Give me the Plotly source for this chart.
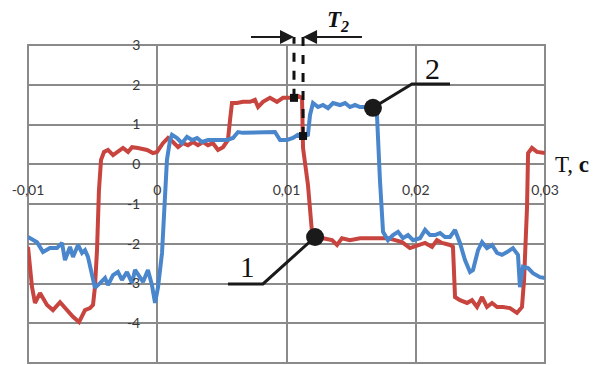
import plotly.graph_objects as go

# ---------------- data ----------------
red_x = [-0.0100, -0.00969, -0.00946, -0.00907, -0.00853, -0.00807, -0.00752, -0.00698,
         -0.00652, -0.00605, -0.00559, -0.00520, -0.00497, -0.00482, -0.00466, -0.00451,
         -0.00435, -0.00412, -0.00381, -0.00342, -0.00304, -0.00265, -0.00226, -0.00195,
         -0.00149, -0.00079, -0.00033, -0.00002, 0.00044, 0.00083, 0.00122, 0.00161,
         0.00199, 0.00238, 0.00277, 0.00315, 0.00354, 0.00393, 0.00431, 0.00470,
         0.00509, 0.00547, 0.00563, 0.00578, 0.00617, 0.00663, 0.00718, 0.00756,
         0.00780, 0.00818, 0.00872, 0.00926, 0.00973, 0.01012, 0.01050, 0.01089,
         0.01120, 0.01128, 0.01166, 0.01197, 0.01221, 0.01282, 0.01352, 0.01391,
         0.01429, 0.01491, 0.01569, 0.01646, 0.01723, 0.01785, 0.01840, 0.01894,
         0.01955, 0.02017, 0.02072, 0.02126, 0.02164, 0.02203, 0.02265, 0.02288,
         0.02304, 0.02342, 0.02397, 0.02435, 0.02474, 0.02513, 0.02551, 0.02590,
         0.02629, 0.02675, 0.02729, 0.02783, 0.02822, 0.02838, 0.02861, 0.02869,
         0.02899, 0.02938, 0.02985, 0.03000]
red_y = [-2.08, -3.09, -3.49, -3.24, -3.54, -3.67, -3.47, -3.67,
         -3.84, -3.97, -3.67, -3.62, -3.54, -3.09, -2.16, -0.65,
         0.11, 0.31, 0.36, 0.23, 0.31, 0.41, 0.31, 0.43,
         0.41, 0.36, 0.28, 0.31, 0.53, 0.66, 0.56, 0.43,
         0.53, 0.48, 0.56, 0.48, 0.56, 0.48, 0.53, 0.36,
         0.43, 0.61, 1.11, 1.54, 1.54, 1.57, 1.57, 1.62,
         1.44, 1.57, 1.67, 1.57, 1.67, 1.67, 1.67, 1.72,
         1.67, 0.41, -0.52, -1.70, -1.83, -1.86, -1.91, -2.03,
         -1.86, -1.91, -1.86, -1.86, -1.86, -1.86, -1.91, -1.96,
         -2.11, -2.03, -1.98, -2.08, -1.91, -1.98, -2.03, -2.08,
         -3.34, -3.42, -3.49, -3.42, -3.59, -3.34, -3.59, -3.49,
         -3.59, -3.59, -3.62, -3.74, -3.59, -2.91, -1.08, 0.28,
         0.41, 0.31, 0.28, 0.28]

blue_x = [-0.0100, -0.00985, -0.00930, -0.00884, -0.00830, -0.00776, -0.00737, -0.00714,
          -0.00675, -0.00652, -0.00613, -0.00582, -0.00559, -0.00536, -0.00505, -0.00482,
          -0.00443, -0.00404, -0.00381, -0.00342, -0.00304, -0.00273, -0.00234, -0.00195,
          -0.00172, -0.00133, -0.00110, -0.00072, -0.00041, -0.00017, 0.00006, 0.00037,
          0.00060, 0.00075, 0.00099, 0.00114, 0.00153, 0.00191, 0.00230, 0.00269,
          0.00308, 0.00346, 0.00393, 0.00431, 0.00486, 0.00540, 0.00586, 0.00625,
          0.00663, 0.00718, 0.00772, 0.00818, 0.00872, 0.00911, 0.00950, 0.01004,
          0.01050, 0.01089, 0.01128, 0.01166, 0.01182, 0.01205, 0.01244, 0.01282,
          0.01321, 0.01360, 0.01414, 0.01453, 0.01491, 0.01530, 0.01569, 0.01623,
          0.01661, 0.01700, 0.01723, 0.01747, 0.01785, 0.01824, 0.01863, 0.01901,
          0.01940, 0.01979, 0.02033, 0.02072, 0.02110, 0.02149, 0.02188, 0.02226,
          0.02265, 0.02304, 0.02342, 0.02381, 0.02420, 0.02443, 0.02482, 0.02513,
          0.02551, 0.02590, 0.02629, 0.02667, 0.02706, 0.02752, 0.02791, 0.02806,
          0.02830, 0.02869, 0.02907, 0.02961, 0.03000]
blue_y = [-1.83, -1.86, -1.96, -2.21, -2.11, -2.11, -1.98, -2.41,
          -2.08, -2.33, -2.03, -2.23, -2.16, -2.33, -2.84, -3.11,
          -2.99, -2.86, -3.04, -2.79, -2.71, -2.91, -2.71, -2.99,
          -2.66, -2.86, -2.96, -2.66, -3.04, -3.49, -3.09, -2.23,
          -0.90, 0.11, 0.61, 0.74, 0.66, 0.53, 0.69, 0.61,
          0.66, 0.56, 0.61, 0.61, 0.61, 0.61, 0.66, 0.81,
          0.79, 0.79, 0.79, 0.79, 0.79, 0.81, 0.61, 0.61,
          0.66, 0.74, 0.69, 0.74, 1.24, 1.54, 1.44, 1.49,
          1.41, 1.54, 1.49, 1.54, 1.44, 1.49, 1.44, 1.44,
          1.36, 1.24, -0.40, -1.70, -1.91, -1.78, -1.70, -1.86,
          -1.78, -1.91, -1.86, -1.65, -1.78, -1.78, -1.73, -1.83,
          -1.83, -1.65, -1.98, -2.41, -2.71, -2.66, -2.16, -1.96,
          -2.11, -2.03, -2.23, -2.28, -2.21, -2.11, -2.28, -3.09,
          -2.58, -2.61, -2.74, -2.84, -2.86]

x_tick_vals = [-0.01, 0.0, 0.01, 0.02, 0.03]
x_tick_labels = ["-0,01", "0", "0,01", "0,02", "0,03"]
y_tick_vals = [-5, -4, -3, -2, -1, 0, 1, 2, 3]
y_tick_labels = ["-5", "-4", "-3", "-2", "-1", "0", "1", "2", "3"]

curve_labels = ["1", "2"]
axis_label = "T, <b>с</b>"
tau_label = "<b><i>T</i></b><sub><b><i>2</i></b></sub>"

# callout leader lines (label underline -> point on the curve)
callout1_x = [0.00547, 0.00818, 0.01221]
callout1_y = [-3.01, -3.01, -1.83]
callout2_x = [0.02265, 0.01971, 0.01669]
callout2_y = [2.02, 2.02, 1.42]
label1_pos = (0.00702, -2.58)
label2_pos = (0.02126, 2.42)

# tau_2 markers: corners of the two curves
tau_x = [0.01058, 0.01128]
tau_y = [1.67, 0.71]
tau_top = 3.2
tau_arrow_tails = [0.00702, 0.01607]
tau_label_pos = (0.01395, 3.58)

X_RANGE = (-0.01, 0.03)
Y_RANGE = (-5, 3)

# the page body has an 8px default margin: the figure is sized/offset for it
PAGE_OFFSET = 8
PLOT_W, PLOT_H = 517, 318


def to_px(v):
    return (v - X_RANGE[0]) / (X_RANGE[1] - X_RANGE[0])


def to_py(v):
    return (v - Y_RANGE[0]) / (Y_RANGE[1] - Y_RANGE[0])


RED = "#c8453f"
BLUE = "#4a86cc"
GRID = "#8a8a8a"
TICK_FONT = dict(family="Lato, 'Open Sans', sans-serif", size=14, color="#383838")
SERIF = "'Liberation Serif', 'DejaVu Serif', serif"

fig = go.Figure()
fig.add_trace(go.Scatter(x=red_x, y=red_y, mode="lines",
                         line=dict(color=RED, width=4), hoverinfo="skip"))
fig.add_trace(go.Scatter(x=blue_x, y=blue_y, mode="lines",
                         line=dict(color=BLUE, width=4), hoverinfo="skip"))

# leader lines with dots
for cx, cy in ((callout1_x, callout1_y), (callout2_x, callout2_y)):
    fig.add_trace(go.Scatter(x=cx, y=cy, mode="lines", line=dict(color="#1a1a1a", width=3),
                             hoverinfo="skip"))
    fig.add_trace(go.Scatter(x=[cx[-1]], y=[cy[-1]], mode="markers",
                             marker=dict(color="#1a1a1a", size=18), hoverinfo="skip",
                             cliponaxis=False))

# outer frame of the grid
shapes = [dict(type="rect", xref="paper", yref="paper", x0=0, x1=1, y0=0, y1=1,
               line=dict(color=GRID, width=2), layer="below")]
# tau_2 dashed verticals (paper coords so they can rise above the grid)
for tx, ty in zip(tau_x, tau_y):
    shapes.append(dict(type="line", xref="paper", yref="paper",
                       x0=to_px(tx), x1=to_px(tx), y0=to_py(ty), y1=to_py(tau_top),
                       line=dict(color="#111111", width=3, dash="dash")))
fig.add_trace(go.Scatter(x=tau_x, y=tau_y, mode="markers",
                         marker=dict(color="#111111", size=8, symbol="square"),
                         hoverinfo="skip", cliponaxis=False))

annotations = []
# arrows
for head, tail in zip(tau_x, tau_arrow_tails):
    annotations.append(dict(xref="paper", yref="paper", x=to_px(head), y=to_py(tau_top),
                            ax=(to_px(tail) - to_px(head)) * PLOT_W, ay=0,
                            showarrow=True, arrowhead=2, arrowsize=1.4, arrowwidth=2,
                            arrowcolor="#1a1a1a", text=" "))
annotations.append(dict(xref="paper", yref="paper", x=to_px(tau_label_pos[0]),
                        y=to_py(tau_label_pos[1]), yshift=17, text=tau_label,
                        showarrow=False,
                        font=dict(family=SERIF, size=23, color="#111111")))
annotations.append(dict(xref="x", yref="y", x=label1_pos[0], y=label1_pos[1],
                        text=curve_labels[0], showarrow=False,
                        font=dict(family=SERIF, size=29, color="#111111")))
annotations.append(dict(xref="x", yref="y", x=label2_pos[0], y=label2_pos[1],
                        text=curve_labels[1], showarrow=False,
                        font=dict(family=SERIF, size=30, color="#111111")))
annotations.append(dict(xref="paper", yref="y", x=1.0, y=0, xanchor="left", xshift=8,
                        text=axis_label, showarrow=False,
                        font=dict(family=SERIF, size=23, color="#111111")))

fig.update_layout(
    template="none",
    width=597 - PAGE_OFFSET, height=365 - PAGE_OFFSET,
    margin=dict(l=28 - PAGE_OFFSET, r=52, t=45 - PAGE_OFFSET, b=2, autoexpand=False),
    paper_bgcolor="white", plot_bgcolor="white",
    showlegend=False,
    shapes=shapes,
    annotations=annotations,
    xaxis=dict(range=list(X_RANGE), tickvals=x_tick_vals, ticktext=x_tick_labels,
               showgrid=True, gridcolor=GRID, gridwidth=2, zeroline=False,
               showline=False, ticks="", anchor="free", position=to_py(0),
               side="bottom", ticklabelstandoff=16, tickfont=TICK_FONT,
               automargin=False, fixedrange=True),
    yaxis=dict(range=list(Y_RANGE), tickvals=y_tick_vals, ticktext=y_tick_labels,
               showgrid=True, gridcolor=GRID, gridwidth=2, zeroline=False,
               showline=False, ticks="", anchor="free", position=to_px(0),
               side="left", ticklabelstandoff=17, tickfont=TICK_FONT,
               automargin=False, fixedrange=True),
)

fig.write_html("out.html")
